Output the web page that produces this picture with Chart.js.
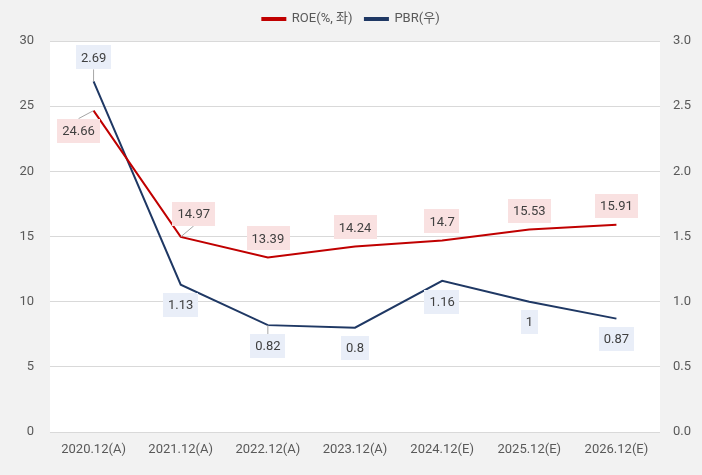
<!DOCTYPE html>
<html>
<head>
<meta charset="utf-8">
<script src="https://cdn.jsdelivr.net/npm/chart.js@4"></script>
<style>
  html, body { margin: 0; padding: 0; background: #f2f2f2; }
  #wrap { width: 702px; height: 475px; }
</style>
</head>
<body>
<div id="wrap"><canvas id="roe-pbr-chart"></canvas></div>
<script>
// data
var years = ["2020.12(A)", "2021.12(A)", "2022.12(A)", "2023.12(A)", "2024.12(E)", "2025.12(E)", "2026.12(E)"];
var roe = [24.66, 14.97, 13.39, 14.24, 14.7, 15.53, 15.91];
var pbr = [2.69, 1.13, 0.82, 0.8, 1.16, 1, 0.87];
var roeLabels = ["24.66", "14.97", "13.39", "14.24", "14.7", "15.53", "15.91"];
var pbrLabels = ["2.69", "1.13", "0.82", "0.8", "1.16", "1", "0.87"];

var FONT = "Roboto, 'Noto Sans CJK KR', sans-serif";

// where each data label sits relative to its point (dx, dy, leader line?)
var roeShift = [[-15, 20, true], [13, -23, true], [0, -19], [0, -19], [0, -19], [0, -19], [0, -19]];
var pbrShift = [[0, -24, true], [0, 20], [0, 21, true], [0, 20], [0, 21], [0, 20], [0, 20]];

// white plot area
var plotBg = {
  id: 'plotBg',
  beforeDraw: function(chart) {
    var a = chart.chartArea, ctx = chart.ctx;
    ctx.save();
    ctx.fillStyle = '#ffffff';
    ctx.fillRect(a.left, a.top, a.right - a.left, a.bottom - a.top);
    ctx.restore();
  }
};

// extra room under the legend
var legendGap = {
  id: 'legendGap',
  beforeInit: function(chart) {
    var fit = chart.legend.fit;
    chart.legend.fit = function() {
      fit.bind(chart.legend)();
      this.height += 5.5;
    };
  }
};

// boxed value labels
var boxLabels = {
  id: 'boxLabels',
  afterDatasetsDraw: function(chart) {
    var ctx = chart.ctx;
    chart.data.datasets.forEach(function(ds, di) {
      var meta = chart.getDatasetMeta(di);
      meta.data.forEach(function(pt, i) {
        var sh = ds.labelShift[i];
        var txt = ds.labelText[i];
        ctx.save();
        ctx.font = "13px " + FONT;
        var w = ctx.measureText(txt).width + 10;
        var h = 24;
        var cx = pt.x + sh[0], cy = pt.y + sh[1];
        if (sh[2]) {
          ctx.strokeStyle = '#a6a6a6';
          ctx.lineWidth = 1;
          ctx.beginPath();
          ctx.moveTo(pt.x, pt.y);
          var ey = sh[1] > 0 ? cy - h / 2 : cy + h / 2;
          ctx.lineTo(cx, ey);
          ctx.stroke();
        }
        ctx.fillStyle = ds.labelBg;
        ctx.fillRect(Math.round(cx - w / 2), Math.round(cy - h / 2), Math.round(w), h);
        ctx.fillStyle = '#404040';
        ctx.textAlign = 'center';
        ctx.textBaseline = 'middle';
        ctx.fillText(txt, cx, cy + 1);
        ctx.restore();
      });
    });
  }
};

new Chart(document.getElementById("roe-pbr-chart"), {
  type: 'line',
  data: {
    labels: years,
    datasets: [
      {
        label: "ROE(%, 좌)",
        data: roe,
        yAxisID: 'y',
        borderColor: "#c00000",
        backgroundColor: "#c00000",
        borderWidth: 2,
        pointRadius: 0,
        tension: 0,
        fill: false,
        labelShift: roeShift,
        labelText: roeLabels,
        labelBg: "#f9e1e1"
      },
      {
        label: "PBR(우)",
        data: pbr,
        yAxisID: 'y1',
        borderColor: "#1f3864",
        backgroundColor: "#1f3864",
        borderWidth: 2,
        pointRadius: 0,
        tension: 0,
        fill: false,
        labelShift: pbrShift,
        labelText: pbrLabels,
        labelBg: "#e9eef8"
      }
    ]
  },
  options: {
    responsive: true,
    maintainAspectRatio: false,
    animation: false,
    layout: { padding: { top: 0, left: 0, right: 0, bottom: 0 } },
    plugins: {
      legend: {
        position: 'top',
        labels: {
          boxWidth: 23,
          boxHeight: 2,
          padding: 12.5,
          color: '#595959',
          font: { family: FONT, size: 13 }
        }
      },
      tooltip: { enabled: false }
    },
    scales: {
      x: {
        offset: true,
        grid: { display: false, drawTicks: false },
        border: { display: false },
        ticks: { color: '#595959', font: { family: FONT, size: 13 }, padding: 10, maxRotation: 0 },
        afterFit: function(s) { s.height = 43; }
      },
      y: {
        position: 'left',
        min: 0, max: 30,
        ticks: { stepSize: 5, color: '#595959', font: { family: FONT, size: 13 }, padding: 16 },
        grid: { color: '#d9d9d9', drawTicks: false },
        border: { display: false },
        afterFit: function(s) { s.width = 50; }
      },
      y1: {
        position: 'right',
        min: 0, max: 3,
        ticks: {
          stepSize: 0.5, color: '#595959', font: { family: FONT, size: 13 }, padding: 13,
          callback: function(v) { return v.toFixed(1); }
        },
        grid: { display: false, drawTicks: false },
        border: { display: false },
        afterFit: function(s) { s.width = 42; }
      }
    }
  },
  plugins: [plotBg, legendGap, boxLabels]
});
</script>
</body>
</html>
